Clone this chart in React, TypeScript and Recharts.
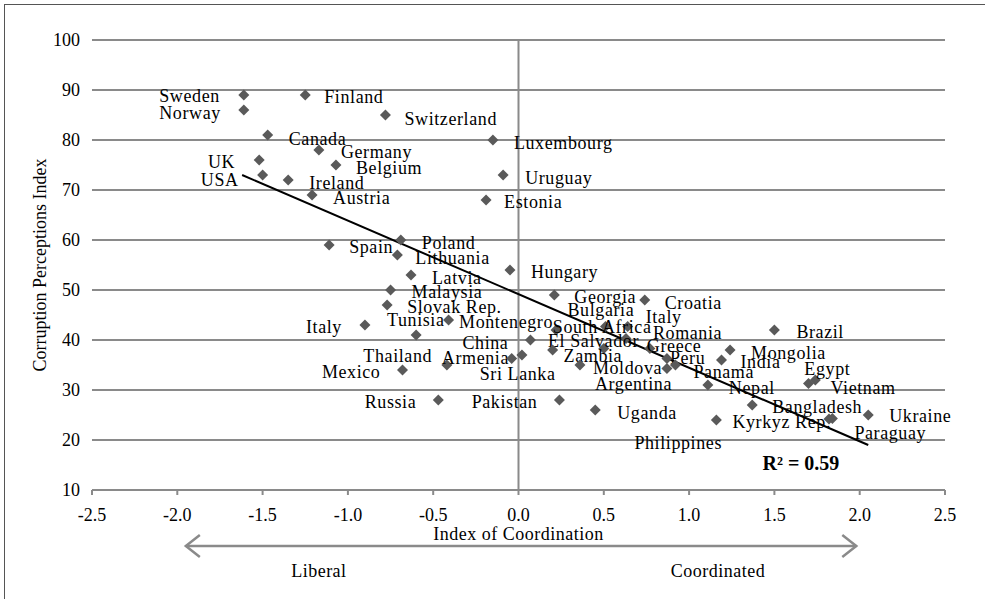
import { ScatterChart, Scatter, XAxis, YAxis, CartesianGrid, ReferenceLine } from 'recharts';

const COUNTRIES = [
  'Sweden', 'Norway', 'Finland', 'Switzerland', 'Canada', 'Luxembourg', 'Germany', 'UK', 'Belgium', 'USA',
  'Ireland', 'Uruguay', 'Austria', 'Estonia', 'Poland', 'Spain', 'Lithuania', 'Hungary', 'Latvia', 'Malaysia',
  'Georgia', 'Croatia', 'Slovak Rep.', 'Bulgaria', 'Italy', 'Tunisia', 'Italy', 'Montenegro', 'South Africa', 'Romania',
  'China', 'El Salvador', 'Greece', 'Mongolia', 'Brazil', 'Thailand', 'Zambia', 'Peru', 'India', 'Armenia',
  'Mexico', 'Moldova', 'Sri Lanka', 'Panama', 'Egypt', 'Argentina', 'Nepal', 'Vietnam', 'Russia', 'Pakistan',
  'Uganda', 'Bangladesh', 'Ukraine', 'Kyrkyz Rep.', 'Paraguay', 'Philippines',
];

// index of coordination (x)
const COORDINATION = [
  -1.61, -1.61, -1.25, -0.78, -1.47, -0.15, -1.17, -1.52, -1.07, -1.5,
  -1.35, -0.09, -1.21, -0.19, -0.69, -1.11, -0.71, -0.05, -0.63, -0.75,
  0.21, 0.74, -0.77, 0.51, 0.64, -0.41, -0.9, 0.22, 0.5, 0.63,
  0.07, 0.02, 0.77, 1.24, 1.5, -0.6, 0.2, 0.87, 1.19, -0.42,
  -0.68, 0.36, -0.04, 0.92, 1.74, 0.87, 1.11, 1.7, -0.47, 0.24,
  0.45, 1.37, 2.05, 1.82, 1.84, 1.16,
];

// corruption perceptions index (y)
const CPI = [
  89, 86, 89, 85, 81, 80, 78, 76, 75, 73,
  72, 73, 69, 68, 60, 59, 57, 54, 53, 50,
  49, 48, 47, 42.7, 42.7, 44, 43, 42, 38.3, 40.3,
  40, 37, 38.3, 38, 42, 41, 38, 36.3, 36, 35,
  34, 35, 36.3, 35, 32, 34.3, 31, 31.3, 28, 28,
  26, 27, 25, 24.2, 24.3, 24,
];

const X_TICKS = [-2.5, -2, -1.5, -1, -0.5, 0, 0.5, 1, 1.5, 2, 2.5];
const Y_TICKS = [10, 20, 30, 40, 50, 60, 70, 80, 90, 100];

// fitted line end points
const TREND_X = [-1.62, 2.05];
const TREND_Y = [73, 19];
const R_SQUARED = 0.59;

// label placement next to each diamond: dx, dy, anchor
const LABEL_LAYOUT: [number, number, 'start' | 'end'][] = [
  [-24, 1, 'end'], [-23, 3, 'end'], [19, 2, 'start'], [19, 4, 'start'], [21, 4, 'start'],
  [21, 3, 'start'], [22, 2, 'start'], [-24, 2, 'end'], [20, 3, 'start'], [-24, 5, 'end'],
  [21, 3, 'start'], [22, 3, 'start'], [21, 3, 'start'], [18, 2, 'start'], [21, 3, 'start'],
  [20, 2, 'start'], [18, 3, 'start'], [21, 2, 'start'], [21, 3, 'start'], [21, 2, 'start'],
  [20, 2, 'start'], [20, 3, 'start'], [20, 2, 'start'], [-38, -17, 'start'], [18, -10, 'start'],
  [-4, 0, 'end'], [-23, 2, 'end'], [-3, -8, 'end'], [-51, -22, 'start'], [27, -6, 'start'],
  [-22, 3, 'end'], [26, -14, 'start'], [-3, -3, 'start'], [21, 3, 'start'], [22, 2, 'start'],
  [16, 21, 'end'], [11, 6, 'start'], [3, -1, 'start'], [19, 2, 'start'], [-5, -7, 'start'],
  [-22, 2, 'end'], [13, 3, 'start'], [-32, 15, 'start'], [18, 7, 'start'], [-11, -11, 'start'],
  [-72, 15, 'start'], [21, 3, 'start'], [22, 4, 'start'], [-22, 2, 'end'], [-22, 2, 'end'],
  [22, 3, 'start'], [20, 2, 'start'], [21, 1, 'start'], [2, 3, 'end'], [22, 14, 'start'],
  [-82, 23, 'start'],
];

const W = 985;
const H = 599;
const PLOT_LEFT = 92;
const PLOT_RIGHT = 945;
const PLOT_TOP = 40;
const PLOT_BOTTOM = 490;
const FONT = '"Liberation Serif", "Times New Roman", serif';
const GRID = '#8a8a8a';

const data = COUNTRIES.map((name, i) => ({ name, x: COORDINATION[i], y: CPI[i], i }));

const xPx = (v: number) => PLOT_LEFT + ((v + 2.5) / 5) * (PLOT_RIGHT - PLOT_LEFT);
const yPx = (v: number) => PLOT_BOTTOM - ((v - 10) / 90) * (PLOT_BOTTOM - PLOT_TOP);

const Diamond = (props: any) => {
  const { cx, cy, payload } = props;
  if (cx == null || cy == null) return null;
  const [dx, dy, anchor] = LABEL_LAYOUT[payload.i];
  const r = 5.5;
  return (
    <g>
      <polygon points={`${cx},${cy - r} ${cx + r},${cy} ${cx},${cy + r} ${cx - r},${cy}`} fill="#5a5a5a" />
      <text
        x={cx + dx}
        y={cy + dy}
        textAnchor={anchor}
        dominantBaseline="central"
        fontSize={18}
        letterSpacing={0.6}
        fill="#000"
      >
        {payload.name}
      </text>
    </g>
  );
};

export default function App() {
  const arrowY = 546;
  const left = xPx(-1.95);
  const right = xPx(1.98);
  return (
    <div style={{ position: 'absolute', left: 0, top: 0, width: W, height: H, background: '#fff', fontFamily: FONT }}>
      <ScatterChart width={W} height={H} margin={{ top: PLOT_TOP, right: W - PLOT_RIGHT, bottom: 0, left: 0 }}>
        <CartesianGrid vertical={false} stroke={GRID} strokeWidth={2} />
        <XAxis
          type="number"
          dataKey="x"
          domain={[-2.5, 2.5]}
          ticks={X_TICKS}
          tickFormatter={(v: number) => v.toFixed(1)}
          stroke={GRID}
          strokeWidth={2}
          tick={{ fill: '#000', fontSize: 18 }}
          tickSize={5}
          tickMargin={13}
          height={H - PLOT_BOTTOM}
          label={{ value: 'Index of Coordination', position: 'insideTop', offset: 37, fill: '#000', fontSize: 18, letterSpacing: 0.5 }}
        />
        <YAxis
          type="number"
          dataKey="y"
          domain={[10, 100]}
          ticks={Y_TICKS}
          axisLine={false}
          tickLine={false}
          width={PLOT_LEFT}
          tickMargin={6}
          tick={{ fill: '#000', fontSize: 18 }}
          label={{
            value: 'Corruption Perceptions Index',
            angle: -90,
            position: 'insideLeft',
            offset: 40,
            fill: '#000',
            fontSize: 18,
            style: { textAnchor: 'middle' },
          }}
        />
        <ReferenceLine x={0} stroke={GRID} strokeWidth={2} />
        <ReferenceLine
          segment={[{ x: TREND_X[0], y: TREND_Y[0] }, { x: TREND_X[1], y: TREND_Y[1] }]}
          stroke="#000"
          strokeWidth={2}
          ifOverflow="visible"
        />
        <Scatter data={data} shape={Diamond} isAnimationActive={false} />
      </ScatterChart>

      <svg width={W} height={H} style={{ position: 'absolute', left: 0, top: 0, pointerEvents: 'none' }}>
        <line x1={left} y1={arrowY} x2={right} y2={arrowY} stroke={GRID} strokeWidth={2.5} />
        <polyline points={`${left + 14},${arrowY - 11} ${left},${arrowY} ${left + 14},${arrowY + 11}`} fill="none" stroke={GRID} strokeWidth={2.5} />
        <polyline points={`${right - 14},${arrowY - 11} ${right},${arrowY} ${right - 14},${arrowY + 11}`} fill="none" stroke={GRID} strokeWidth={2.5} />
        <text x={xPx(-1.17)} y={571} textAnchor="middle" dominantBaseline="central" fontSize={18} letterSpacing={0.5} fill="#000">Liberal</text>
        <text x={xPx(1.17)} y={571} textAnchor="middle" dominantBaseline="central" fontSize={18} letterSpacing={0.5} fill="#000">Coordinated</text>
        <text x={xPx(1.43)} y={yPx(15.4)} dominantBaseline="central" fontSize={20} fontWeight="bold" fill="#000">
          R² = {R_SQUARED.toFixed(2)}
        </text>
      </svg>
      <div style={{ position: 'absolute', left: 4, top: 4, right: 0, bottom: 0, borderLeft: '1px solid #555', borderTop: '1px solid #555' }} />
    </div>
  );
}
